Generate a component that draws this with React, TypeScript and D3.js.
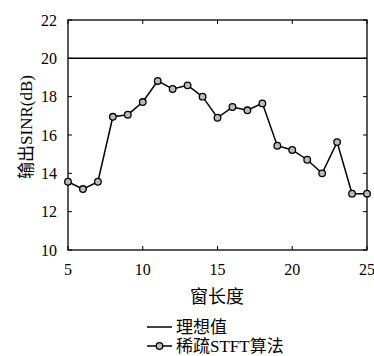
import React from 'react';
import { scaleLinear, line } from 'd3';

const windowLengths = [5, 6, 7, 8, 9, 10, 11, 12, 13, 14, 15, 16, 17, 18, 19, 20, 21, 22, 23, 24, 25];
const sparseStft = [13.56, 13.18, 13.56, 16.95, 17.06, 17.72, 18.82, 18.4, 18.59, 18.0, 16.9, 17.46, 17.29, 17.65, 15.44, 15.22, 14.71, 14.0, 15.63, 12.94, 12.94];
const idealValue = 20;
const xTicks = [5, 10, 15, 20, 25];
const yTicks = [10, 12, 14, 16, 18, 20, 22];
const legendLabels = ['理想值', '稀疏STFT算法'];

const serif = '"Liberation Serif", "DejaVu Serif", "Noto Sans CJK SC", serif';

function App() {
  const w = 374;
  const h = 356;
  const margin = { left: 68, right: 7, top: 20, bottom: 106 };

  const x = scaleLinear().domain([5, 25]).range([margin.left, w - margin.right]);
  const y = scaleLinear().domain([10, 22]).range([h - margin.bottom, margin.top]);

  const pts = windowLengths.map((d, i) => [d, sparseStft[i]] as [number, number]);
  const path = line<[number, number]>()
    .x(d => x(d[0]))
    .y(d => y(d[1]))(pts);

  const x0 = x(5);
  const x1 = x(25);
  const yTop = y(22);
  const yBot = y(10);
  const tick = 4;

  return (
    <div style={{ position: 'absolute', left: 0, top: 0 }}>
      <svg width={w} height={h} style={{ display: 'block' }}>
        <rect x={0} y={0} width={w} height={h} fill="#fff" />
        {/* frame */}
        <rect x={x0} y={yTop} width={x1 - x0} height={yBot - yTop} fill="none" stroke="#000" strokeWidth={1.3} />
        {/* ticks */}
        {yTicks.map(t => (
          <g key={'y' + t}>
            <line x1={x0} x2={x0 + tick} y1={y(t)} y2={y(t)} stroke="#000" />
            <line x1={x1} x2={x1 - tick} y1={y(t)} y2={y(t)} stroke="#000" />
            <text x={x0 - 11} y={y(t)} dy="0.35em" textAnchor="end" fontFamily={serif} fontSize={16}>
              {t}
            </text>
          </g>
        ))}
        {xTicks.map(t => (
          <g key={'x' + t}>
            <line x1={x(t)} x2={x(t)} y1={yBot} y2={yBot - tick} stroke="#000" />
            <line x1={x(t)} x2={x(t)} y1={yTop} y2={yTop + tick} stroke="#000" />
            <text x={x(t)} y={yBot + 14} dy="0.71em" textAnchor="middle" fontFamily={serif} fontSize={16}>
              {t}
            </text>
          </g>
        ))}
        {/* ideal line */}
        <line x1={x0} x2={x1} y1={y(idealValue)} y2={y(idealValue)} stroke="#000" strokeWidth={1.5} />
        {/* series */}
        <path d={path ?? ''} fill="none" stroke="#000" strokeWidth={1.5} />
        {pts.map((d, i) => (
          <circle key={i} cx={x(d[0])} cy={y(d[1])} r={3.3} fill="#bbb" stroke="#000" strokeWidth={1.3} />
        ))}
        {/* axis titles */}
        <text
          transform={`translate(26,127) rotate(-90)`}
          textAnchor="middle"
          dy="0.35em"
          fontFamily={serif}
          fontSize={17}
        >
          输出SINR(dB)
        </text>
        <text x={217} y={297} dy="0.35em" textAnchor="middle" fontFamily={serif} fontSize={18}>
          窗长度
        </text>
        {/* legend */}
        <line x1={147} x2={172} y1={327} y2={327} stroke="#000" strokeWidth={1.5} />
        <text x={176} y={327} dy="0.35em" fontFamily={serif} fontSize={17}>
          {legendLabels[0]}
        </text>
        <line x1={147} x2={172} y1={346} y2={346} stroke="#000" strokeWidth={1.5} />
        <circle cx={159.5} cy={346} r={3.3} fill="#bbb" stroke="#000" strokeWidth={1.3} />
        <text x={176} y={346} dy="0.35em" fontFamily={serif} fontSize={17}>
          {legendLabels[1]}
        </text>
      </svg>
    </div>
  );
}

export default App;
